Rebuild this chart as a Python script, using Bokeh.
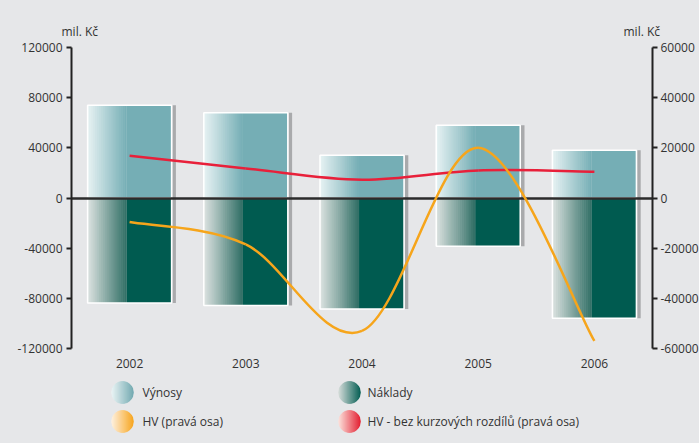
import math
from bokeh.plotting import figure
from bokeh.models import (Range1d, LinearAxis, FixedTicker, ColumnDataSource,
                          FactorRange, PrintfTickFormatter, GlobalInlineStyleSheet)
from bokeh.transform import dodge
from bokeh.layouts import column
from bokeh.core.properties import value
from bokeh.embed import file_html
from bokeh.resources import INLINE

# ---------------- data ----------------
years = ["2002", "2003", "2004", "2005", "2006"]
vynosy = [74000, 68000, 34000, 58000, 38000]          # revenues (left axis)
naklady = [-83700, -85800, -88500, -38400, -95800]    # costs (left axis)
hv = [-9600, -18500, -53000, 20000, -57000]           # HV (right axis)
hv_bez = [16800, 11800, 7300, 11000, 10500]           # HV bez kurzových rozdílů (right axis)

left_ticks = [-120000, -80000, -40000, 0, 40000, 80000, 120000]
right_ticks = [-60000, -40000, -20000, 0, 20000, 40000, 60000]
unit_label = "mil. Kč"
legend_labels = ["Výnosy", "Náklady", "HV (pravá osa)",
                 "HV - bez kurzových rozdílů (pravá osa)"]

# ---------------- style ----------------
BG = "#e6e7e9"
TXT = "#333333"
FONT = "Open Sans"
TOP_L, TOP_R = (232, 243, 244), (117, 174, 181)
BOT_L, BOT_R = (222, 228, 226), (48, 110, 101)
BOT_SOLID = "#005b50"
TOP_SOLID = "#75aeb5"
ORANGE = "#f6a51b"
RED = "#e8203a"
SHADOW = "#a9aaac"

def lerp(c1, c2, t):
    return "#%02x%02x%02x" % tuple(int(round(a + (b - a) * t)) for a, b in zip(c1, c2))

W = 708
HEAD_H = 39
MAIN_H = 339
LEG_H = 65

def blank(h):
    f = figure(width=W, height=h, x_range=Range1d(0, W), y_range=Range1d(h, 0),
               output_backend="svg", toolbar_location=None, min_border=0,
               background_fill_color=BG, border_fill_color=BG, outline_line_color=None,
               frame_align=False)
    f.axis.visible = False
    f.grid.visible = False
    return f

# ---------------- header (unit labels) ----------------
hp = blank(HEAD_H)
hp.text(x=[61, 623], y=[31, 31], text=[unit_label, unit_label],
        text_font=value(FONT), text_font_size="12px", text_baseline="middle",
        text_color=TXT)

# ---------------- main chart ----------------
p = figure(width=W, height=MAIN_H, x_range=FactorRange(*years),
           y_range=Range1d(-120000, 120000), output_backend="svg",
           toolbar_location=None, min_border_left=71, min_border_right=56,
           min_border_top=8, min_border_bottom=30,
           background_fill_color=BG, border_fill_color=BG, outline_line_color=None)
p.extra_y_ranges = {"right": Range1d(-60000, 60000)}
p.grid.visible = False

src = ColumnDataSource(dict(year=years, vynosy=vynosy, naklady=naklady))

BW = 0.723
GRAD = 0.335
N = 20
sw = GRAD / N

# shadow on the right side
p.vbar(x=dodge("year", BW / 2 + 0.022, range=p.x_range), width=0.03,
       top="vynosy", bottom="naklady", source=src, fill_color=SHADOW, line_color=None)

# solid parts
solid_w = BW - GRAD
p.vbar(x=dodge("year", BW / 2 - solid_w / 2, range=p.x_range), width=solid_w,
       top="vynosy", bottom=0, source=src, fill_color=TOP_SOLID, line_color=None)
p.vbar(x=dodge("year", BW / 2 - solid_w / 2, range=p.x_range), width=solid_w,
       top=0, bottom="naklady", source=src, fill_color=BOT_SOLID, line_color=None)

# gradient strips
for k in range(N):
    t = (k + 0.5) / N
    off = -BW / 2 + (k + 0.5) * sw
    p.vbar(x=dodge("year", off, range=p.x_range), width=sw * 1.25,
           top="vynosy", bottom=0, source=src,
           fill_color=lerp(TOP_L, TOP_R, t), line_color=None)
    p.vbar(x=dodge("year", off, range=p.x_range), width=sw * 1.25,
           top=0, bottom="naklady", source=src,
           fill_color=lerp(BOT_L, BOT_R, t), line_color=None)

# white outlines
p.vbar(x="year", width=BW, top="vynosy", bottom=0, source=src,
       fill_color=None, line_color="white", line_width=1.5)
p.vbar(x="year", width=BW, top=0, bottom="naklady", source=src,
       fill_color=None, line_color="white", line_width=1.5)

# zero line
p.hspan(y=[0], line_color="#2b2b2b", line_width=2.5)

# smooth lines via Bezier segments (Catmull-Rom control points)
def bez(ys):
    xs = [i + 0.5 for i in range(len(ys))]
    n = len(ys)
    d = dict(x0=[], y0=[], x1=[], y1=[], cx0=[], cy0=[], cx1=[], cy1=[])
    for i in range(n - 1):
        a, b = max(i - 1, 0), min(i + 2, n - 1)
        d["x0"].append(xs[i]); d["y0"].append(ys[i])
        d["x1"].append(xs[i + 1]); d["y1"].append(ys[i + 1])
        d["cx0"].append(xs[i] + (xs[i + 1] - xs[a]) / 6)
        d["cy0"].append(ys[i] + (ys[i + 1] - ys[a]) / 6)
        d["cx1"].append(xs[i + 1] - (xs[b] - xs[i]) / 6)
        d["cy1"].append(ys[i + 1] - (ys[b] - ys[i]) / 6)
    return ColumnDataSource(d)

p.bezier(x0="x0", y0="y0", x1="x1", y1="y1", cx0="cx0", cy0="cy0", cx1="cx1", cy1="cy1",
         source=bez(hv_bez), line_color=RED, line_width=2.5, y_range_name="right")
p.bezier(x0="x0", y0="y0", x1="x1", y1="y1", cx0="cx0", cy0="cy0", cx1="cx1", cy1="cy1",
         source=bez(hv), line_color=ORANGE, line_width=2.5, y_range_name="right")

# axes
def style_y(ax):
    ax.axis_line_color = "#222222"
    ax.axis_line_width = 2
    ax.major_tick_line_color = "#222222"
    ax.major_tick_line_width = 2
    ax.major_tick_out = 5
    ax.major_tick_in = 0
    ax.minor_tick_line_color = None
    ax.major_label_text_font = FONT
    ax.major_label_text_font_size = "12px"
    ax.major_label_text_color = TXT
    ax.formatter = PrintfTickFormatter(format="%d")

ly = p.yaxis[0]
ly.ticker = FixedTicker(ticks=left_ticks)
style_y(ly)
ly.major_label_standoff = 4

ry = LinearAxis(y_range_name="right", ticker=FixedTicker(ticks=right_ticks))
style_y(ry)
ry.major_label_standoff = 3
p.add_layout(ry, "right")

xa = p.xaxis[0]
xa.axis_line_color = None
xa.major_tick_line_color = None
xa.major_label_standoff = 4
xa.major_label_text_font = FONT
xa.major_label_text_font_size = "12px"
xa.major_label_text_color = TXT

# ---------------- legend ----------------
lp = blank(LEG_H)
items = [
    (122, 14, (236, 245, 246), (111, 168, 175)),
    (349, 14, (216, 222, 220), (0, 91, 80)),
    (122, 43, (255, 242, 226), (248, 164, 26)),
    (349, 43, (253, 228, 221), (227, 27, 45)),
]
R = 11
NS = 22
for cx, cy, cl, cr in items:
    xs, ys, cols = [], [], []
    for i in range(NS):
        x0 = cx - R + 2 * R * i / NS
        x1 = cx - R + 2 * R * (i + 1) / NS
        h0 = math.sqrt(max(R * R - (x0 - cx) ** 2, 0))
        h1 = math.sqrt(max(R * R - (x1 - cx) ** 2, 0))
        xs.append([x0, x1, x1, x0])
        ys.append([cy - h0, cy - h1, cy + h1, cy + h0])
        cols.append(lerp(cl, cr, (i + 0.5) / NS))
    lp.patches(xs=xs, ys=ys, fill_color=cols, line_color=cols, line_width=0.6)

lp.text(x=[142, 367, 142, 367], y=[14, 14, 43, 43], text=legend_labels,
        text_font=value(FONT), text_font_size="12px", text_baseline="middle",
        text_color=TXT)

layout = column(hp, p, lp, spacing=0, stylesheets=[GlobalInlineStyleSheet(
    css="html, body { margin: 0 !important; padding: 0 !important; "
        "background-color: #e6e7e9 !important; overflow: hidden !important; }")])

open("out.html", "w").write(file_html(layout, INLINE))
